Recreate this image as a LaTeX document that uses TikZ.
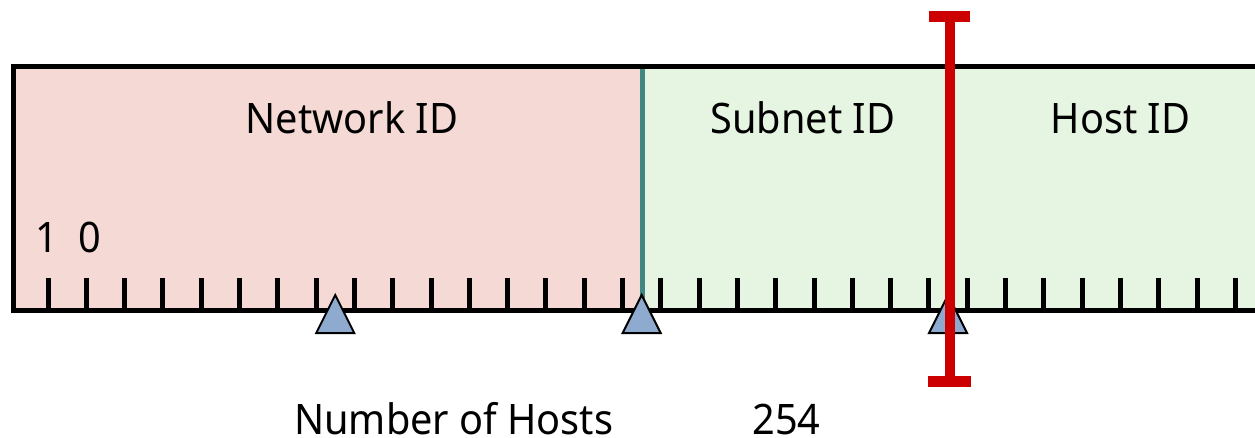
\documentclass[tikz,border=0pt]{standalone}
\usepackage{fontspec}
\setmainfont[FakeStretch=0.945]{Noto Sans}
\definecolor{netpink}{HTML}{F5D9D5}
\definecolor{subgreen}{HTML}{E6F5E2}
\definecolor{triblue}{HTML}{8EAACF}
\definecolor{divteal}{HTML}{3F8782}
\definecolor{maskred}{HTML}{CC0000}
\tikzset{
  lbl/.style={font=\fontsize{42}{50}\selectfont, inner sep=0pt, anchor=base, text=black},
  tickline/.style={line width=5pt, black},
  border/.style={line width=5pt, black},
  marker/.style={fill=triblue, draw=black, line width=2pt, line join=miter},
  redbar/.style={line width=10pt, maskred},
  redcap/.style={fill=maskred, draw=none}
}
\begin{document}
\begin{tikzpicture}[x=1pt,y=-1pt]
\useasboundingbox (0,0) rectangle (1255,438);
% fills
\fill[netpink] (13,67) rectangle (642,310);
\fill[subgreen] (642,67) rectangle (1270,310);
% ticks
\foreach \k in {0,...,31}{
  \draw[tickline] ({48+38.3*\k},278) -- ({48+38.3*\k},310);
}
% divider
\draw[line width=5pt, divteal] (642,67) -- (642,310);
% border
\draw[border] (1270,67) -- (13,67) -- (13,310) -- (1270,310);
% labels
\node[lbl] (net) at (352,134) {Network ID};
\node[lbl] (sub) at (803,134) {Subnet ID};
\node[lbl] (host) at (1120.5,134) {Host ID};
\node[lbl] (b1) at (47,253) {1};
\node[lbl] (b0) at (89.5,253) {0};
\node[lbl, anchor=base west] (nh) at (294,434) {Number of Hosts};
\node[lbl] (cnt) at (786.5,434) {254};
% triangles
\foreach \c in {7.5,15.5,23.5}{
  \draw[marker] ({48+38.3*\c},295) -- ({48+38.3*\c+19},333) -- ({48+38.3*\c-19},333) -- cycle;
}
% red bar
\coordinate (rt) at (949.5,16);
\coordinate (rb) at (949.5,382);
\draw[redbar] (rt) -- (rb);
\fill[redcap] (929,11) rectangle (970,22);
\fill[redcap] (928,376) rectangle (971,387);
\end{tikzpicture}
\end{document}
